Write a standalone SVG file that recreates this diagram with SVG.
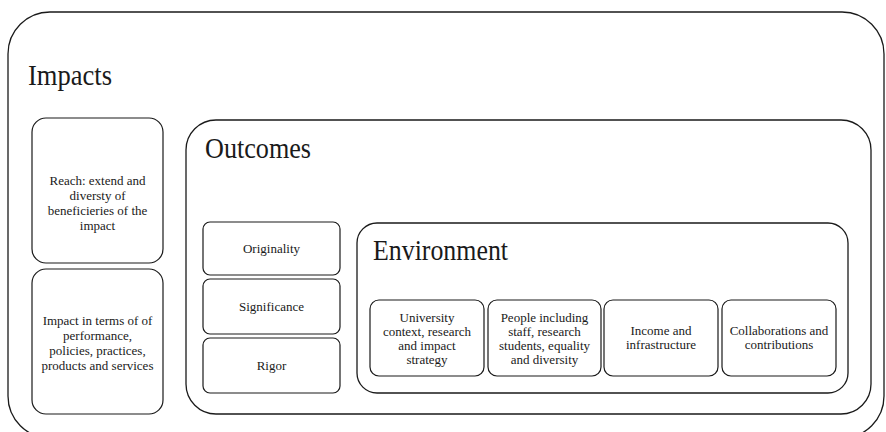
<svg xmlns="http://www.w3.org/2000/svg" width="886" height="432" viewBox="0 0 886 432">
<style>
.box{fill:none;stroke:#1a1a1a;stroke-width:1.3}
.sub{fill:#fff;stroke:#1a1a1a;stroke-width:1.2}
.title{font-family:"Liberation Serif","Times New Roman",serif;font-size:29px;fill:#1a1a1a}
.lbl{font-family:"Liberation Serif","Times New Roman",serif;font-size:13px;fill:#1a1a1a;text-anchor:middle}
</style>
<rect width="886" height="432" fill="#fff"/>
<g id="impacts">
<rect class="box" x="8" y="12" width="876" height="426" rx="42"/>
<text class="title" x="28" y="85" textLength="84" lengthAdjust="spacingAndGlyphs">Impacts</text>
</g>
<g id="reach">
<rect class="sub" x="32" y="118" width="131" height="145" rx="14"/>
<text class="lbl"><tspan x="97.5" y="185">Reach: extend and</tspan><tspan x="97.5" y="200">diversty of</tspan><tspan x="97.5" y="215">beneficieries of the</tspan><tspan x="97.5" y="230">impact</tspan></text>
</g>
<g id="impact-terms">
<rect class="sub" x="32" y="269" width="131" height="145" rx="14"/>
<text class="lbl"><tspan x="97.5" y="325">Impact in terms of of</tspan><tspan x="97.5" y="340">performance,</tspan><tspan x="97.5" y="355">policies, practices,</tspan><tspan x="97.5" y="370">products and services</tspan></text>
</g>
<g id="outcomes">
<rect class="box" x="186" y="120" width="685" height="294" rx="30"/>
<text class="title" x="205" y="158" textLength="106" lengthAdjust="spacingAndGlyphs">Outcomes</text>
</g>
<g id="originality">
<rect class="sub" x="203" y="222" width="137" height="53" rx="7"/>
<text class="lbl" x="271.5" y="253">Originality</text>
</g>
<g id="significance">
<rect class="sub" x="203" y="279" width="137" height="55" rx="7"/>
<text class="lbl" x="271.5" y="311">Significance</text>
</g>
<g id="rigor">
<rect class="sub" x="203" y="338" width="137" height="55" rx="7"/>
<text class="lbl" x="271.5" y="370">Rigor</text>
</g>
<g id="environment">
<rect class="box" x="357" y="223" width="491" height="170" rx="20"/>
<text class="title" x="373" y="260" textLength="135" lengthAdjust="spacingAndGlyphs">Environment</text>
</g>
<g id="university">
<rect class="sub" x="370" y="300" width="114" height="76" rx="9"/>
<text class="lbl"><tspan x="427" y="322">University</tspan><tspan x="427" y="336">context, research</tspan><tspan x="427" y="350">and impact</tspan><tspan x="427" y="364">strategy</tspan></text>
</g>
<g id="people">
<rect class="sub" x="488" y="300" width="113" height="76" rx="9"/>
<text class="lbl"><tspan x="544.5" y="322">People including</tspan><tspan x="544.5" y="336">staff, research</tspan><tspan x="544.5" y="350">students, equality</tspan><tspan x="544.5" y="364">and diversity</tspan></text>
</g>
<g id="income">
<rect class="sub" x="604" y="300" width="114" height="76" rx="9"/>
<text class="lbl"><tspan x="661" y="335">Income and</tspan><tspan x="661" y="349">infrastructure</tspan></text>
</g>
<g id="collab">
<rect class="sub" x="722" y="300" width="114" height="76" rx="9"/>
<text class="lbl"><tspan x="779" y="335">Collaborations and</tspan><tspan x="779" y="349">contributions</tspan></text>
</g>
<g id="connectors"></g>
</svg>
